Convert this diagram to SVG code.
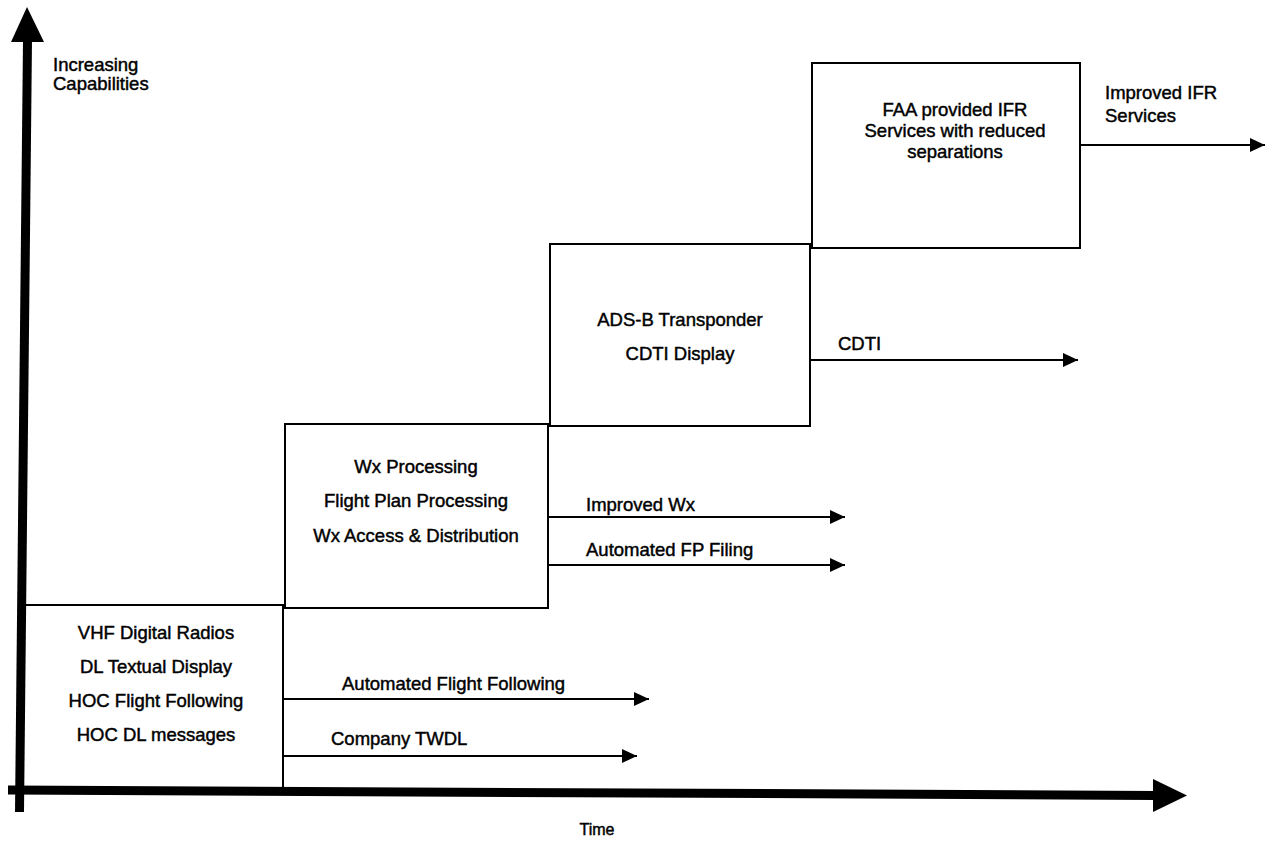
<svg xmlns="http://www.w3.org/2000/svg" width="1267" height="842" viewBox="0 0 1267 842">
<defs>
<marker id="ah" markerUnits="userSpaceOnUse" markerWidth="16" markerHeight="16" refX="15" refY="8" orient="auto">
<path d="M0,1 L15,8 L0,15 Z" fill="#000"/>
</marker>
<style>
text{font-family:"Liberation Sans",Arial,Helvetica,sans-serif;font-size:18.5px;fill:#000;stroke:#000;stroke-width:0.45}
.c{text-anchor:middle}
.box{fill:none;stroke:#000;stroke-width:2}
.arr{fill:none;stroke:#000;stroke-width:2;marker-end:url(#ah)}
</style>
</defs>
<rect width="1267" height="842" fill="#fff"/>
<g id="axes">
<path d="M27.5,40 L19.5,812" stroke="#000" stroke-width="9" fill="none"/>
<polygon points="27,7 44,42 11,42" fill="#000"/>
<path d="M8,790 L1156,795.5" stroke="#000" stroke-width="9" fill="none"/>
<polygon points="1187,795.5 1153,779 1153,812" fill="#000"/>
<text x="53" y="71">Increasing</text>
<text x="53" y="90">Capabilities</text>
<text class="c" x="597" y="835" style="font-size:16px">Time</text>
</g>
<g id="box1">
<path class="box" d="M23,605 L283,605 L283,790"/>
<text class="c" x="156" y="639">VHF Digital Radios</text>
<text class="c" x="156" y="673">DL Textual Display</text>
<text class="c" x="156" y="707">HOC Flight Following</text>
<text class="c" x="156" y="741">HOC DL messages</text>
</g>
<g id="box2">
<rect class="box" x="285" y="424" width="263" height="184"/>
<text class="c" x="416" y="473">Wx Processing</text>
<text class="c" x="416" y="507">Flight Plan Processing</text>
<text class="c" x="416" y="542">Wx Access &amp; Distribution</text>
</g>
<g id="box3">
<rect class="box" x="550" y="244" width="260" height="182"/>
<text class="c" x="680" y="326">ADS-B Transponder</text>
<text class="c" x="680" y="360">CDTI Display</text>
</g>
<g id="box4">
<rect class="box" x="812" y="63" width="268" height="185"/>
<text class="c" x="955" y="116">FAA provided IFR</text>
<text class="c" x="955" y="137">Services with reduced</text>
<text class="c" x="955" y="158">separations</text>
</g>
<g id="connectors">
<line class="arr" x1="283" y1="699" x2="649" y2="699"/>
<line class="arr" x1="283" y1="756" x2="637" y2="756"/>
<line class="arr" x1="548" y1="517" x2="845" y2="517"/>
<line class="arr" x1="548" y1="565" x2="845" y2="565"/>
<line class="arr" x1="810" y1="360" x2="1078" y2="360"/>
<line class="arr" x1="1080" y1="145" x2="1265" y2="145"/>
</g>
<g id="labels">
<text x="342" y="690">Automated Flight Following</text>
<text x="331" y="745">Company TWDL</text>
<text x="586" y="511">Improved Wx</text>
<text x="586" y="556">Automated FP Filing</text>
<text x="838" y="350">CDTI</text>
<text x="1105" y="99">Improved IFR</text>
<text x="1105" y="122">Services</text>
</g>
</svg>
